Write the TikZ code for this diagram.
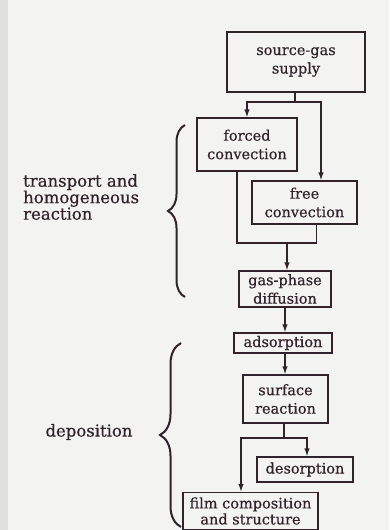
\documentclass[tikz,border=0pt]{standalone}
\usepackage{fontspec}
\setmainfont[FakeBold=0.5]{DejaVu Serif}
\usetikzlibrary{arrows.meta,decorations.pathreplacing}
\definecolor{ink}{RGB}{50,34,44}
\definecolor{paper}{RGB}{243,243,241}

\begin{document}
\begin{tikzpicture}[x=1pt,y=-1pt]
\tikzstyle{every node}=[text=ink,align=center,inner sep=0pt,font=\fontsize{14.5}{18.5}\selectfont];
\tikzstyle{box}=[draw=ink,line width=1.3pt];
\tikzstyle{arr}=[draw=ink,line width=1.3pt,-{Latex[length=8pt,width=5.5pt]}];
\tikzstyle{lnk}=[draw=ink,line width=1.3pt];
\tikzstyle{brc}=[draw=ink,line width=2pt,decorate];
\tikzstyle{lbl}=[font=\fontsize{16.5}{16.5}\selectfont];
\fill[paper] (0,0) rectangle (389,530);
\fill[black!12] (0,0) rectangle (8,530);
\useasboundingbox (0,0) rectangle (389,530);
% boxes
\node[box,minimum width=138pt,minimum height=60pt] (src) at (296,62) {source-gas\\supply};
\node[box,minimum width=100pt,minimum height=53pt] (forced) at (247,144.5) {forced\\convection};
\node[box,minimum width=105pt,minimum height=43pt] (free) at (304.5,202.5) {free\\convection};
\node[box,minimum width=92pt,minimum height=36pt] (gas) at (285,289) {gas-phase\\diffusion};
\node[box,minimum width=98pt,minimum height=20pt] (ads) at (283,343) {adsorption};
\node[box,minimum width=85pt,minimum height=48pt] (surf) at (285.5,399) {surface\\reaction};
\node[box,minimum width=96pt,minimum height=25pt] (des) at (305,469.5) {desorption};
\node[box,minimum width=135pt,minimum height=37pt,font=\fontsize{14.5}{16}\selectfont] (film) at (250.5,511) {film composition\\and structure};
% connectors
\coordinate (split) at (295,102);
\coordinate (merge) at (287,243);
\coordinate (fork) at (284,438);
\draw[lnk] (src.south -| split) -- (split);
\draw[arr] (split) -| (forced.north);
\draw[arr] (split) -| ([xshift=16.5pt]free.north);
\draw[lnk] ([xshift=-10pt]forced.south) |- (merge);
\draw[lnk] ([xshift=12pt]free.south) |- (merge);
\draw[arr] (merge) -- (merge |- gas.north);
\draw[arr] (gas.south) -- (gas.south |- ads.north);
\draw[arr] ([xshift=2pt]ads.south) -- ([xshift=2pt]ads.south |- surf.north);
\draw[lnk] (surf.south -| fork) -- (fork);
\draw[arr] (fork) -| ([xshift=2pt]des.north);
\draw[arr] (fork) -| ([xshift=-9.5pt]film.north);
% braces and labels
\draw[brc,decoration={brace,amplitude=17pt}] (185,297) -- (185,125);
\draw[brc,decoration={brace,amplitude=21pt}] (181,527) -- (181,343);
\node[lbl,anchor=west,align=left] (transport) at (23,197) {transport and\\homogeneous\\reaction};
\node[lbl] (depo) at (89,432) {deposition};
\end{tikzpicture}
\end{document}
